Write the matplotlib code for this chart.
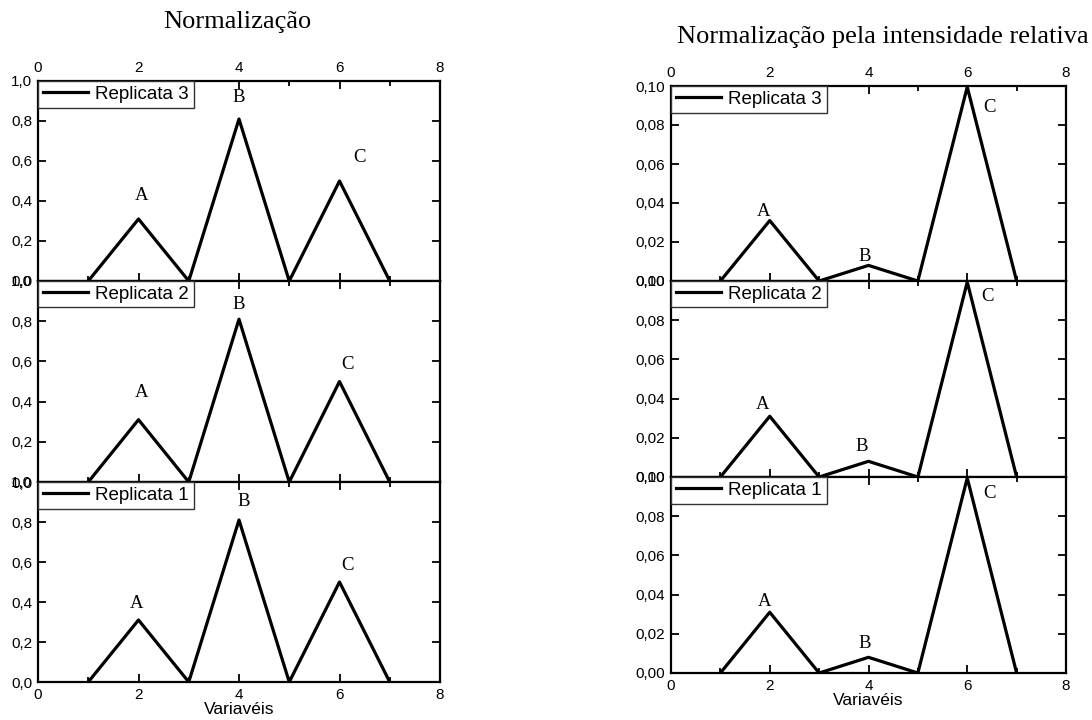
import matplotlib.pyplot as plt
from matplotlib.ticker import MultipleLocator, FuncFormatter

# dados
variaveis = [1, 2, 3, 4, 5, 6, 7]
normalizacao = [0, 0.31, 0, 0.81, 0, 0.50, 0]
intensidade_relativa = [0, 0.031, 0, 0.008, 0, 0.0995, 0]
replicatas = ['Replicata 3', 'Replicata 2', 'Replicata 1']

# posicoes das letras A, B, C (coordenadas de dados) por replicata
rotulos = ['A', 'B', 'C']
rot_esq = [
    [(2.07, 0.425), (4.0, 0.915), (6.39, 0.62)],
    [(2.07, 0.445), (4.0, 0.885), (6.15, 0.585)],
    [(1.97, 0.39), (4.1, 0.90), (6.15, 0.58)],
]
rot_dir = [
    [(1.88, 0.0354), (3.93, 0.0128), (6.46, 0.0892)],
    [(1.86, 0.0372), (3.87, 0.0158), (6.40, 0.0920)],
    [(1.90, 0.0367), (3.93, 0.0153), (6.46, 0.0918)],
]

plt.rcParams['font.family'] = ['Liberation Sans', 'DejaVu Sans']
serif = ['Liberation Serif', 'DejaVu Serif']

fig = plt.figure(figsize=(10.92, 7.2), dpi=100)

W, H = 1092, 720


def eixo(x0, x1, y0, y1):
    return fig.add_axes([x0 / W, 1 - y1 / H, (x1 - x0) / W, (y1 - y0) / H])


def estilo(ax, ymax, ystep, fmt, topo, base):
    ax.set_xlim(0, 8)
    ax.set_ylim(0, ymax)
    ax.xaxis.set_major_locator(MultipleLocator(2))
    ax.xaxis.set_minor_locator(MultipleLocator(1))
    ax.yaxis.set_major_locator(MultipleLocator(ystep))
    ax.yaxis.set_major_formatter(FuncFormatter(lambda v, p: (fmt % v).replace('.', ',')))
    ax.xaxis.set_major_formatter(FuncFormatter(lambda v, p: '%d' % v))
    ax.tick_params(which='both', direction='in', top=True, right=True,
                   labeltop=topo, labelbottom=base, labelsize=11, width=1.3)
    ax.tick_params(which='major', length=6, pad=4)
    ax.tick_params(which='minor', length=3.5)
    ax.tick_params(axis='y', which='minor', left=False, right=False)
    for s in ax.spines.values():
        s.set_linewidth(1.6)


paineis = [
    (38, 440, [(81, 281), (281, 482), (482, 682)], normalizacao, 1.0, 0.2, '%.1f', rot_esq),
    (671, 1066, [(86, 281), (281, 477), (477, 673)], intensidade_relativa, 0.10, 0.02, '%.2f', rot_dir),
]

eixos = []
for x0, x1, linhas, valores, ymax, ystep, fmt, rots in paineis:
    col = []
    for i, (y0, y1) in enumerate(linhas):
        ax = eixo(x0, x1, y0, y1)
        ax.plot(variaveis, valores, color='black', linewidth=2.3, label=replicatas[i])
        estilo(ax, ymax, ystep, fmt, topo=(i == 0), base=(i == 2))
        for letra, (tx, ty) in zip(rotulos, rots[i]):
            ax.text(tx, ty, letra, ha='center', va='center', fontsize=13.5, family=serif)
        leg = ax.legend(loc='upper left', borderaxespad=0, fancybox=False,
                        fontsize=13.5, handlelength=2.4, handletextpad=0.4,
                        borderpad=0.25, framealpha=1)
        leg.get_frame().set_edgecolor('#333333')
        leg.get_frame().set_linewidth(1.0)
        col.append(ax)
    eixos.append(col)

eixos[0][2].set_xlabel('Variavéis', fontsize=12.5, labelpad=0)
eixos[1][2].set_xlabel('Variavéis', fontsize=12.5, labelpad=0)

fig.text(237 / W, 1 - 22 / H, 'Normalização', ha='center', va='center',
         fontsize=19, family=serif)
fig.text(883 / W, 1 - 37 / H, 'Normalização pela intensidade relativa', ha='center',
         va='center', fontsize=19, family=serif)

fig.savefig('out.png', dpi=100)
plt.close()
